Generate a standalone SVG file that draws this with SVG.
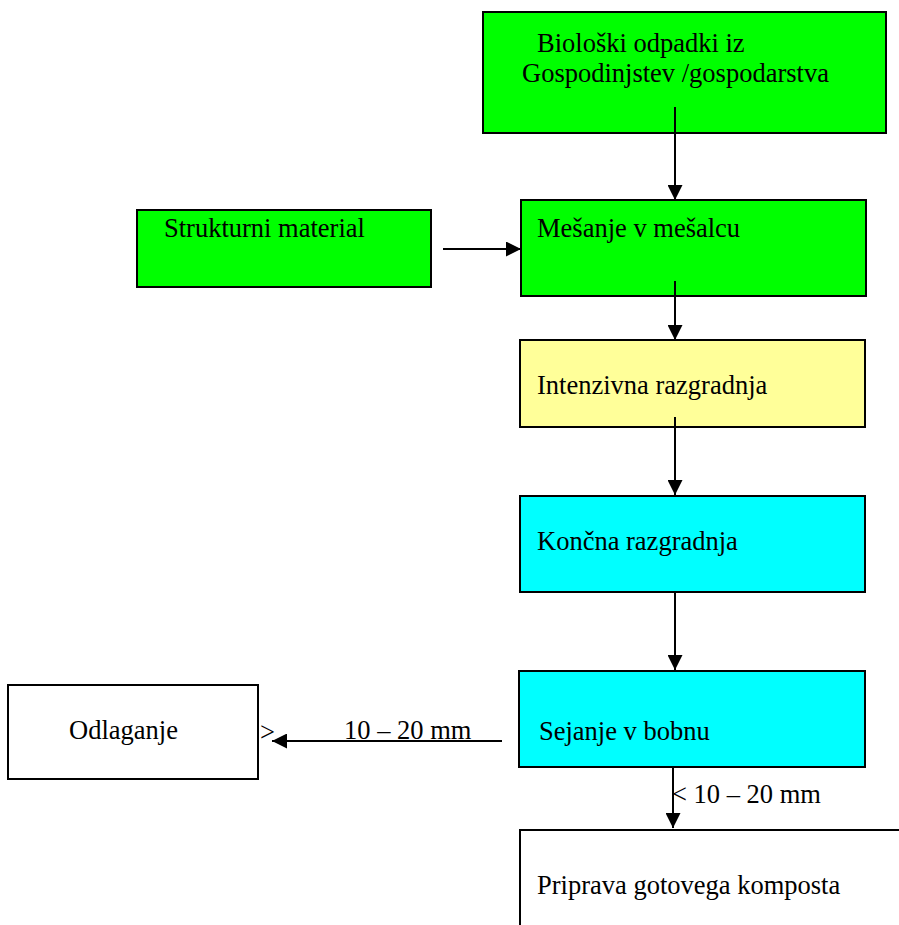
<svg xmlns="http://www.w3.org/2000/svg" width="899" height="925" viewBox="0 0 899 925">
<style>
.box{stroke:#000;stroke-width:2}
.t{font-family:"Liberation Serif","Times New Roman",serif;font-size:26.5px;fill:#000}
.c{stroke:#000;stroke-width:2;fill:none}
</style>
<defs>
<marker id="ah2" markerWidth="15" markerHeight="15" refX="15" refY="7.5" orient="auto" markerUnits="userSpaceOnUse" viewBox="0 0 15 15">
<path d="M0,0 L15,7.5 L0,15 z" fill="#000"/>
</marker>
</defs>
<rect width="899" height="925" fill="#fff"/>
<g id="bio">
<rect class="box" x="483" y="12" width="403" height="121" fill="#00ff00"/>
<text class="t" x="537" y="52">Biološki odpadki iz</text>
<text class="t" x="522" y="82">Gospodinjstev /gospodarstva</text>
</g>
<g id="struktur">
<rect class="box" x="137" y="210" width="294" height="77" fill="#00ff00"/>
<text class="t" x="164" y="237">Strukturni material</text>
</g>
<g id="mesanje">
<rect class="box" x="521" y="200" width="345" height="96" fill="#00ff00"/>
<text class="t" x="537" y="237">Mešanje v mešalcu</text>
</g>
<g id="intenzivna">
<rect class="box" x="520" y="340" width="345" height="87" fill="#ffff99"/>
<text class="t" x="537" y="394">Intenzivna razgradnja</text>
</g>
<g id="koncna">
<rect class="box" x="520" y="496" width="345" height="96" fill="#00ffff"/>
<text class="t" x="537" y="550">Končna razgradnja</text>
</g>
<g id="sejanje">
<rect class="box" x="519" y="671" width="346" height="96" fill="#00ffff"/>
<text class="t" x="539" y="740">Sejanje v bobnu</text>
</g>
<g id="odlaganje">
<rect class="box" x="8" y="685" width="250" height="94" fill="#fff"/>
<text class="t" x="69" y="739">Odlaganje</text>
</g>
<g id="priprava">
<path class="box" d="M520,930 V830 H905" fill="#fff"/>
<text class="t" x="537" y="894">Priprava gotovega komposta</text>
</g>
<g id="connectors">
<line class="c" x1="675" y1="107" x2="675" y2="200" marker-end="url(#ah2)"/>
<line class="c" x1="443" y1="249" x2="521" y2="249" marker-end="url(#ah2)"/>
<line class="c" x1="675" y1="281" x2="675" y2="340" marker-end="url(#ah2)"/>
<line class="c" x1="675" y1="417" x2="675" y2="495" marker-end="url(#ah2)"/>
<line class="c" x1="675" y1="592" x2="675" y2="670" marker-end="url(#ah2)"/>
<line class="c" x1="502" y1="741" x2="272" y2="741" marker-end="url(#ah2)"/>
<line class="c" x1="673" y1="767" x2="673" y2="828" marker-end="url(#ah2)"/>
<text class="t" x="260" y="741">&gt;</text>
<text class="t" x="344" y="739">10 – 20 mm</text>
<text class="t" x="672" y="803">&lt; 10 – 20 mm</text>
</g>
</svg>
